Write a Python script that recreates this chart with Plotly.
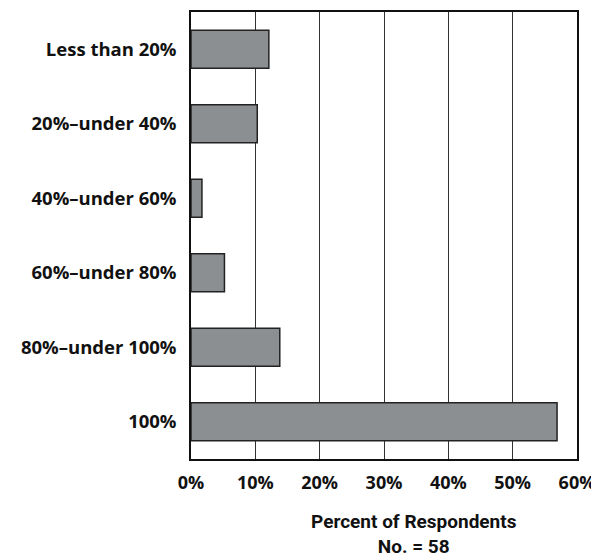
import plotly.graph_objects as go

categories = ["Less than 20%", "20%\u2013under 40%", "40%\u2013under 60%",
              "60%\u2013under 80%", "80%\u2013under 100%", "100%"]
percents = [12.1, 10.3, 1.7, 5.2, 13.8, 56.9]
tick_vals = [0, 10, 20, 30, 40, 50, 60]
tick_text = ["0%", "10%", "20%", "30%", "40%", "50%", "60%"]

fig = go.Figure(go.Bar(
    x=percents, y=categories, orientation="h",
    marker=dict(color="#8c8f91", line=dict(color="#222222", width=1.5)),
    hoverinfo="skip",
))

# page body has an 8px default margin, so the figure is sized to fit
W, H = 591, 550
L, R, T, B = 183, 22, 2, 99
fig.update_layout(
    width=W, height=H,
    margin=dict(l=L, r=R, t=T, b=B),
    paper_bgcolor="white", plot_bgcolor="white",
    bargap=0.49,
    showlegend=False,
    font=dict(family="'Open Sans', sans-serif", color="#111111"),
    annotations=[dict(
        text="<b>Percent of Respondents<br>No. = 58</b>",
        x=(406 - L) / (W - L - R), xref="paper", xanchor="center",
        y=-0.11, yref="paper", yanchor="top",
        showarrow=False,
        font=dict(family="'Liberation Sans Narrow', 'Roboto', sans-serif", size=19, color="#111"),
        align="center",
    )],
)

fig.update_xaxes(
    range=[0, 60], tickvals=tick_vals, ticktext=tick_text,
    showgrid=True, gridcolor="#333333", gridwidth=1,
    showline=True, linecolor="#111111", linewidth=1.5, mirror=True,
    ticks="", ticklabelstandoff=7,
    tickfont=dict(family="'Open Sans', sans-serif", size=18, color="#111111", weight="bold"),
    zeroline=False, fixedrange=True,
)
fig.update_yaxes(
    categoryorder="array", categoryarray=categories[::-1],
    showgrid=False,
    showline=True, linecolor="#111111", linewidth=1.5, mirror=True,
    ticks="", ticklabelstandoff=9,
    tickfont=dict(family="'Open Sans', sans-serif", size=18.5, color="#111111", weight="bold"),
    fixedrange=True,
)

fig.write_html("out.html")
